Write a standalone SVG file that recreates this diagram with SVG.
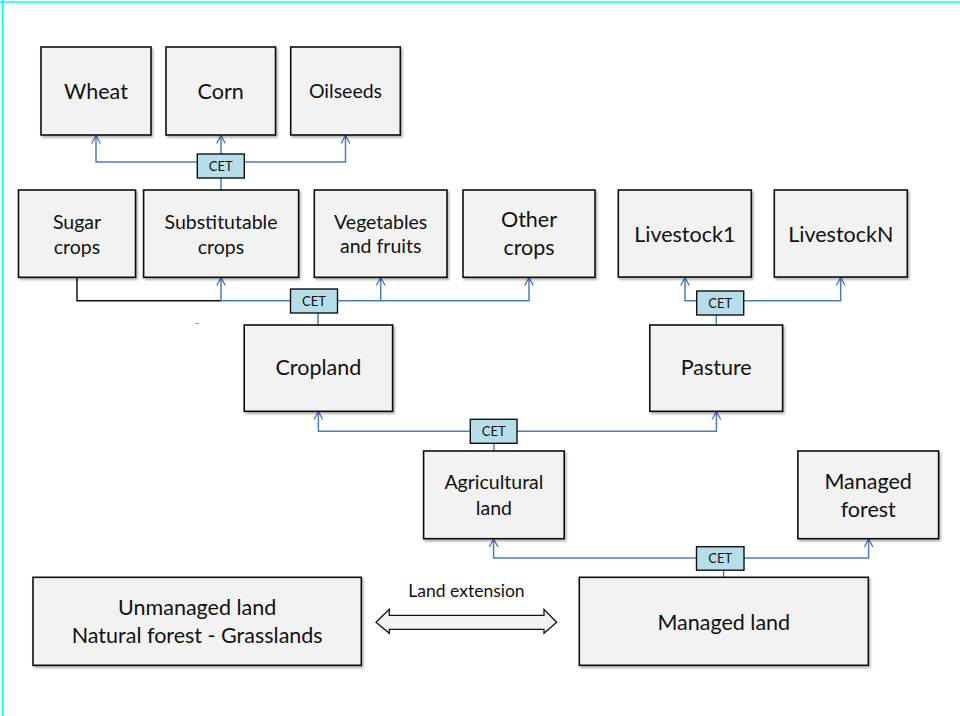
<svg xmlns="http://www.w3.org/2000/svg" width="960" height="716" viewBox="0 0 960 716">
<style>
.box{fill:#f2f2f2;stroke:#111;stroke-width:1.6;filter:url(#sh)}
.cet{fill:#b7dee8;stroke:#111;stroke-width:1.4}
.t{font-family:Lato,"Liberation Sans",sans-serif;fill:#111;text-anchor:middle}
.big{font-size:21.5px}
.mid{font-size:19.5px}
.sm{font-size:13px}
.c{fill:none;stroke:#4a7ebb;stroke-width:1.5}
.a{marker-end:url(#ah)}
</style>
<defs>
<filter id="sh" x="-10%" y="-10%" width="130%" height="130%">
<feDropShadow dx="1.5" dy="2" stdDeviation="1.2" flood-color="#000" flood-opacity="0.3"/>
</filter>
<marker id="ah" markerUnits="userSpaceOnUse" markerWidth="12" markerHeight="12" viewBox="-10 -6 12 12" refX="0" refY="0" orient="auto">
<path d="M-8,-4.3 L0,0 L-8,4.3" fill="none" stroke="#4a7ebb" stroke-width="1.4"/>
</marker>
</defs>
<rect width="960" height="716" fill="#fff"/>
<line x1="0" y1="2" x2="960" y2="2" stroke="#00ffff" stroke-width="1.6"/>
<line x1="2.5" y1="0" x2="2.5" y2="716" stroke="#00ffff" stroke-width="1.6"/>
<line x1="195.5" y1="323.5" x2="199" y2="323.5" stroke="#999" stroke-width="1"/>

<g id="connectors">
<polyline class="c a" points="197,162 96,162 96,135.5"/>
<polyline class="c a" points="244,162 345.5,162 345.5,135.5"/>
<line class="c a" x1="221" y1="154" x2="221" y2="135.5"/>
<line class="c" x1="221" y1="178" x2="221" y2="190"/>

<polyline points="77,277.5 77,300.7 221,300.7" fill="none" stroke="#111" stroke-width="1.5"/>
<line class="c" x1="221" y1="300.7" x2="290" y2="300.7"/>
<line class="c a" x1="221" y1="300.7" x2="221" y2="277.5"/>
<polyline class="c a" points="337.5,300.7 529,300.7 529,277.5"/>
<line class="c a" x1="380.7" y1="300.7" x2="380.7" y2="277.5"/>
<line class="c" x1="318" y1="313" x2="318" y2="325"/>

<polyline class="c a" points="697,300.7 685,300.7 685,277.5"/>
<polyline class="c a" points="744,300.7 840.7,300.7 840.7,277.5"/>
<line class="c" x1="716.3" y1="315" x2="716.3" y2="325"/>

<polyline class="c a" points="470,431.3 318.4,431.3 318.4,411.5"/>
<polyline class="c a" points="517,431.3 716.4,431.3 716.4,411.5"/>
<line class="c" x1="494" y1="443" x2="494" y2="451"/>

<polyline class="c a" points="696.5,558 493.6,558 493.6,539"/>
<polyline class="c a" points="744,558 868.6,558 868.6,539"/>
<line class="c" x1="723.6" y1="570" x2="723.6" y2="577"/>

<path d="M376,622.3 L389.3,609.3 L389.3,615.3 L544,615.3 L544,609.3 L556.7,622.3 L544,633.3 L544,629.3 L389.3,629.3 L389.3,633.3 Z" fill="#f2f2f2" stroke="#111" stroke-width="1.3"/>
<text class="t" x="466.5" y="596.7" style="font-size:17.5px">Land extension</text>
</g>

<g id="cet1"><rect class="cet" x="197.3" y="154" width="47" height="24"/><text class="t sm" x="220.8" y="170.7">CET</text></g>
<g id="cet2"><rect class="cet" x="290.5" y="289" width="47" height="24"/><text class="t sm" x="314" y="305.5">CET</text></g>
<g id="cet3"><rect class="cet" x="696.7" y="291" width="47" height="24"/><text class="t sm" x="720.2" y="307.5">CET</text></g>
<g id="cet4"><rect class="cet" x="470.3" y="419.3" width="46.7" height="24"/><text class="t sm" x="493.7" y="436">CET</text></g>
<g id="cet5"><rect class="cet" x="696.5" y="546.7" width="47.5" height="23.5"/><text class="t sm" x="720.2" y="563">CET</text></g>

<g id="wheat"><rect class="box" x="41" y="47" width="110" height="88"/><text class="t big" x="96" y="99">Wheat</text></g>
<g id="corn"><rect class="box" x="166" y="47" width="109.5" height="88"/><text class="t big" x="220.7" y="99">Corn</text></g>
<g id="oilseeds"><rect class="box" x="290.7" y="47" width="109.6" height="88"/><text class="t mid" x="345.5" y="98">Oilseeds</text></g>

<g id="sugar"><rect class="box" x="18.5" y="190" width="117" height="87.3"/><text class="t mid" x="77" y="229">Sugar</text><text class="t mid" x="77" y="254">crops</text></g>
<g id="substitutable"><rect class="box" x="143.6" y="190" width="155" height="87.3"/><text class="t mid" x="221" y="229">Substitutable</text><text class="t mid" x="221" y="254">crops</text></g>
<g id="vegetables"><rect class="box" x="314.3" y="190" width="132.7" height="87.3"/><text class="t mid" x="380.7" y="228.7">Vegetables</text><text class="t mid" x="380.7" y="253.3">and fruits</text></g>
<g id="other"><rect class="box" x="463" y="190" width="132" height="87.3"/><text class="t big" x="529" y="226.7">Other</text><text class="t big" x="529" y="255.3">crops</text></g>
<g id="livestock1"><rect class="box" x="618.3" y="190" width="133" height="87"/><text class="t big" x="684.8" y="242">Livestock1</text></g>
<g id="livestockn"><rect class="box" x="774.3" y="190" width="133" height="87"/><text class="t big" x="840.8" y="242">LivestockN</text></g>

<g id="cropland"><rect class="box" x="244.2" y="325" width="148.4" height="86.3"/><text class="t big" x="318.4" y="375.3">Cropland</text></g>
<g id="pasture"><rect class="box" x="649.8" y="325" width="132.8" height="86.3"/><text class="t big" x="716.2" y="375.3">Pasture</text></g>

<g id="agricultural"><rect class="box" x="423.6" y="451" width="140.6" height="87.7"/><text class="t mid" x="493.9" y="489.3">Agricultural</text><text class="t mid" x="493.9" y="514.7">land</text></g>
<g id="managedforest"><rect class="box" x="797.9" y="451" width="140.7" height="87.7"/><text class="t big" x="868.2" y="488.7">Managed</text><text class="t big" x="868.2" y="517.3">forest</text></g>

<g id="unmanaged"><rect class="box" x="33" y="577.3" width="328.3" height="88"/><text class="t big" x="197.2" y="614.7">Unmanaged land</text><text class="t big" x="197.2" y="643.3">Natural forest - Grasslands</text></g>
<g id="managedland"><rect class="box" x="579.3" y="577.3" width="289" height="88"/><text class="t big" x="723.8" y="630">Managed land</text></g>
</svg>
